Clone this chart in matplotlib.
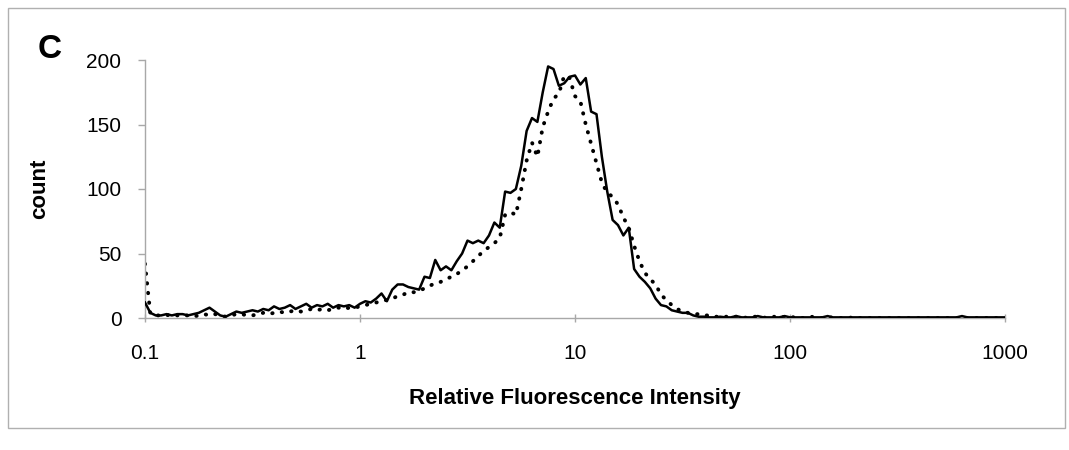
import numpy as np
import matplotlib
matplotlib.use("Agg")
import matplotlib.pyplot as plt
from matplotlib.patches import Rectangle

# log-spaced channel grid, 0.1 .. 1000 (step 1/40 decade)
intensity = np.logspace(-1, 3, 161)

count_solid = [
    12, 4, 2, 2, 3, 2, 3, 3, 2, 3,
    4, 6, 8, 5, 2, 1, 3, 5, 4, 5,
    6, 5, 7, 6, 9, 7, 8, 10, 7, 9,
    11, 8, 10, 9, 11, 8, 10, 9, 10, 8,
    11, 13, 12, 15, 19, 13, 22, 26, 26, 24,
    23, 22, 32, 31, 45, 37, 40, 37, 44, 50,
    60, 58, 60, 58, 64, 74, 70, 98, 97, 100,
    118, 145, 155, 152, 175, 195, 193, 180, 182, 187,
    188, 181, 186, 160, 158, 125, 98, 76, 72, 64,
    70, 38, 32, 28, 23, 15, 10, 9, 6, 5,
    4, 4, 2, 1, 1, 0.5, 0.5, 1, 0.5, 0.5,
    1.5, 0.5, 0.5, 0.5, 1.5, 0.5, 0.5, 0.5, 0.5, 1.5,
    0.5, 0.5, 0.5, 0.5, 0.5, 0.5, 0.5, 1.5, 0.5, 0.5,
    0.5, 0.5, 0.5, 0.5, 0.5, 0.5, 0.5, 0.5, 0.5, 0.5,
    0.5, 0.5, 0.5, 0.5, 0.5, 0.5, 0.5, 0.5, 0.5, 0.5,
    0.5, 0.5, 1.5, 0.5, 0.5, 0.5, 0.5, 0.5, 0.5, 0.5,
    0.5,
]

count_dotted = [
    42, 3, 2, 2, 2, 3, 2, 2, 2, 1,
    2, 3, 2, 3, 2, 1, 2, 3, 3, 2,
    2, 3, 4, 3, 4, 5, 4, 5, 6, 5,
    6, 7, 6, 7, 6, 7, 8, 7, 8, 8,
    9, 10, 11, 12, 13, 14, 15, 17, 18, 20,
    20, 21, 23, 25, 27, 28, 30, 32, 34, 37,
    40, 44, 48, 52, 55, 58, 62, 80, 82, 80,
    100, 122, 136, 125, 148, 160, 170, 174, 188, 186,
    172, 168, 150, 135, 120, 105, 97, 94, 88, 78,
    70, 56, 44, 35, 30, 26, 18, 14, 10, 7,
    5, 4, 3, 3, 2, 2, 1, 1, 1, 1,
    1, 1, 0, 1, 1, 0, 1, 1, 0, 1,
    0, 1, 0, 0, 1, 0, 0, 1, 0, 0,
    0, 0, 1, 0, 0, 0, 0, 0, 0, 0,
    0, 0, 0, 0, 0, 0, 0, 0, 0, 0,
    0, 0, 0, 0, 0, 0, 0, 0, 0, 0,
    0,
]

xticks = [0.1, 1, 10, 100, 1000]
xtick_labels = ["0.1", "1", "10", "100", "1000"]
yticks = [0, 50, 100, 150, 200]

plt.rcParams['font.family'] = ['Liberation Sans', 'DejaVu Sans']

fig = plt.figure(figsize=(10.69, 4.5), dpi=100)
ax = fig.add_axes([145/1069, 1 - 318/450, (1005-145)/1069, (318-60)/450])

ax.plot(intensity, count_dotted, color='black', lw=2.8,
        linestyle=(0, (0.1, 2.4)), dash_capstyle='round', zorder=2)
ax.plot(intensity, count_solid, color='black', lw=1.8, zorder=3)

ax.set_xscale('log')
ax.set_xlim(0.1, 1000)
ax.set_ylim(0, 200)
ax.set_xticks(xticks)
ax.set_xticklabels(xtick_labels)
ax.xaxis.set_minor_locator(matplotlib.ticker.NullLocator())
ax.set_yticks(yticks)

for s in ['top', 'right']:
    ax.spines[s].set_visible(False)
for s in ['left', 'bottom']:
    ax.spines[s].set_color('#a8a8a8')
    ax.spines[s].set_linewidth(1.0)

ax.tick_params(axis='y', direction='out', length=5, width=1, color='#a8a8a8',
               labelsize=15, pad=12)
ax.tick_params(axis='x', direction='inout', length=6, width=1, color='#a8a8a8',
               labelsize=15, pad=16)

ax.set_ylabel('count', fontsize=16, fontweight='bold', labelpad=26)
ax.set_xlabel('Relative Fluorescence Intensity', fontsize=16, fontweight='bold',
              labelpad=18)

fig.text(50/1069, 1 - 50/450, 'C', fontsize=24, fontweight='bold',
         ha='center', va='center')

fig.patches.append(Rectangle((8/1069, 1 - 428/450), (1065-8)/1069, (428-8)/450,
                             transform=fig.transFigure, fill=False,
                             edgecolor='#b0b0b0', lw=1.0))

fig.savefig('out.png', dpi=100)
